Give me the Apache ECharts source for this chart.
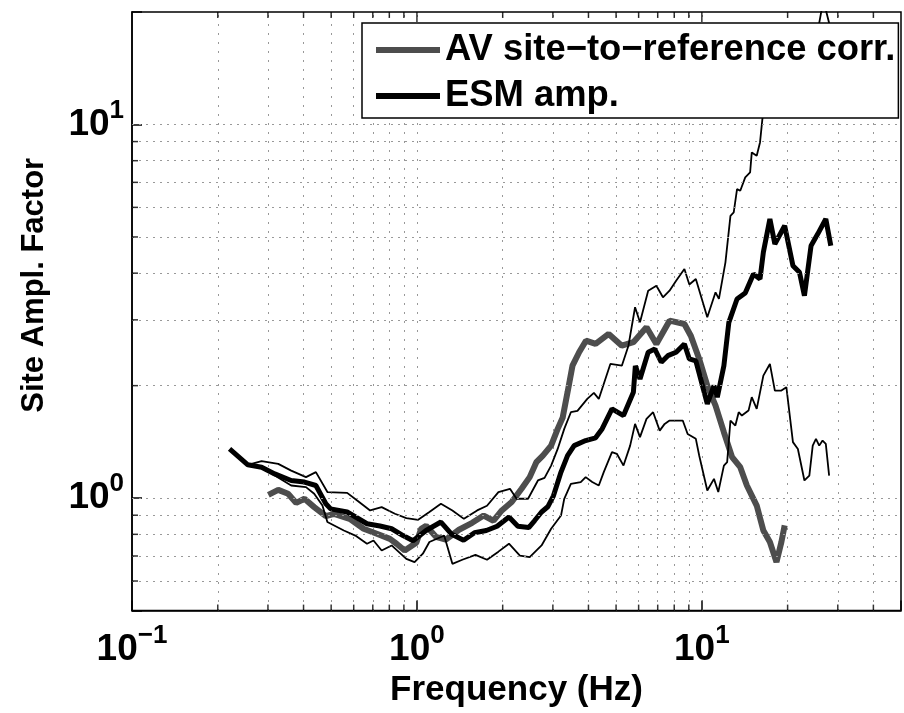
<!DOCTYPE html>
<html>
<head>
<meta charset="utf-8">
<script src="https://cdn.jsdelivr.net/npm/echarts@6/dist/echarts.min.js"></script>
<style>
html,body{margin:0;padding:0;background:#fff;}
#chart{width:904px;height:713px;}
</style>
</head>
<body>
<div id="chart"></div>
<script>
// ---------------- data (frequency Hz, amplification) ----------------
const avCurve = [[0.301,1.020],[0.326,1.052],[0.353,1.027],[0.377,0.971],[0.403,0.996],[0.436,0.946],[0.479,0.895],[0.512,0.908],[0.584,0.878],[0.650,0.828],[0.723,0.803],[0.804,0.778],[0.848,0.755],[0.906,0.724],[0.995,0.759],[1.035,0.828],[1.077,0.843],[1.166,0.788],[1.263,0.774],[1.405,0.823],[1.563,0.859],[1.715,0.898],[1.857,0.870],[1.986,0.927],[2.151,0.976],[2.329,1.059],[2.488,1.138],[2.625,1.248],[2.767,1.300],[2.958,1.382],[3.119,1.532],[3.246,1.640],[3.378,1.921],[3.516,2.262],[3.709,2.457],[3.920,2.639],[4.236,2.586],[4.710,2.750],[5.238,2.558],[5.751,2.614],[6.394,2.866],[6.925,2.586],[7.703,2.985],[8.685,2.925],[9.155,2.716],[9.788,2.358],[10.45,2.000],[11.17,1.768],[11.95,1.501],[12.77,1.287],[13.64,1.210],[14.39,1.081],[15.58,0.955],[16.44,0.819],[17.33,0.763],[18.28,0.674],[19.02,0.763],[19.53,0.845]];

const esmCurve = [[0.220,1.354],[0.255,1.228],[0.285,1.210],[0.317,1.161],[0.362,1.115],[0.403,1.104],[0.442,1.081],[0.479,0.966],[0.498,0.936],[0.569,0.918],[0.668,0.854],[0.742,0.842],[0.815,0.828],[0.894,0.794],[0.969,0.769],[1.077,0.819],[1.214,0.863],[1.325,0.800],[1.458,0.771],[1.592,0.808],[1.752,0.819],[1.912,0.841],[2.104,0.890],[2.261,0.841],[2.469,0.834],[2.590,0.871],[2.738,0.918],[2.879,0.948],[3.014,1.014],[3.204,1.174],[3.378,1.300],[3.563,1.382],[3.911,1.426],[4.236,1.450],[4.466,1.532],[4.837,1.733],[5.309,1.663],[5.751,1.921],[5.843,2.258],[6.066,2.084],[6.481,2.457],[6.837,2.507],[7.205,2.310],[7.599,2.406],[8.123,2.457],[8.685,2.586],[9.038,2.358],[9.526,2.329],[10.45,1.787],[11.03,2.000],[11.33,1.863],[11.95,2.262],[12.44,2.955],[13.29,3.412],[14.20,3.540],[15.18,3.980],[16.00,3.858],[16.44,4.549],[17.33,5.583],[18.04,4.786],[19.53,5.357],[20.88,4.188],[22.01,4.021],[22.91,3.480],[24.17,4.737],[25.50,5.089],[27.23,5.583],[28.35,4.737]];

const esmUpper = [[0.255,1.228],[0.285,1.256],[0.326,1.235],[0.362,1.185],[0.408,1.138],[0.442,1.174],[0.485,1.038],[0.569,1.033],[0.617,0.985],[0.685,0.927],[0.752,0.946],[0.837,0.908],[0.918,0.884],[1.010,0.875],[1.106,0.918],[1.214,0.966],[1.332,0.927],[1.462,0.880],[1.627,0.927],[1.762,0.954],[1.932,1.038],[2.121,1.059],[2.238,0.996],[2.455,0.996],[2.659,1.115],[2.805,1.133],[2.958,1.222],[3.119,1.354],[3.289,1.532],[3.470,1.698],[3.659,1.712],[3.962,1.843],[4.179,1.912],[4.348,1.843],[4.774,2.286],[5.238,2.262],[5.526,2.558],[5.829,3.242],[6.066,2.955],[6.481,3.591],[6.925,3.703],[7.303,3.448],[7.703,3.591],[8.123,3.818],[8.685,4.104],[9.038,3.730],[9.526,3.858],[10.45,3.048],[11.17,3.555],[11.48,3.412],[12.10,4.276],[12.60,5.697],[12.94,5.817],[13.29,6.714],[13.64,6.645],[14.20,7.217],[14.77,7.440],[14.97,8.418],[15.58,8.245],[16.00,8.953],[16.31,10.33],[17.3,13.5],[18.3,15.5],[19.5,14.5],[21.0,16.5],[22.5,15.0],[24.0,16.0],[25.0,15.5],[25.82,18.7],[26.70,21.5],[27.97,18.7],[28.3,17.0]];

const esmLower = [[0.255,1.228],[0.285,1.210],[0.317,1.149],[0.362,1.081],[0.408,1.070],[0.436,1.027],[0.466,0.955],[0.485,0.863],[0.554,0.819],[0.608,0.794],[0.668,0.755],[0.704,0.770],[0.752,0.724],[0.815,0.747],[0.918,0.688],[0.981,0.674],[1.049,0.710],[1.106,0.763],[1.214,0.787],[1.246,0.794],[1.332,0.667],[1.443,0.684],[1.605,0.705],[1.762,0.684],[1.932,0.719],[2.104,0.755],[2.298,0.702],[2.488,0.695],[2.738,0.747],[2.958,0.828],[3.204,0.898],[3.289,0.996],[3.470,1.092],[3.758,1.104],[3.911,1.138],[4.123,1.104],[4.348,1.081],[4.526,1.174],[4.837,1.327],[5.031,1.314],[5.309,1.222],[5.602,1.382],[5.829,1.580],[6.066,1.456],[6.394,1.630],[6.745,1.698],[7.114,1.516],[7.404,1.580],[7.703,1.613],[8.569,1.613],[8.916,1.485],[9.526,1.441],[9.788,1.300],[10.45,1.048],[11.03,1.126],[11.42,1.038],[11.95,1.222],[12.27,1.248],[12.60,1.613],[13.11,1.564],[13.47,1.698],[13.82,1.663],[14.58,1.715],[14.97,1.863],[15.58,1.733],[16.44,2.127],[17.33,2.286],[18.04,1.940],[19.02,1.940],[19.80,1.981],[20.88,1.412],[21.73,1.354],[22.91,1.115],[23.84,1.149],[24.50,1.382],[25.15,1.441],[25.82,1.382],[26.53,1.426],[27.23,1.397],[27.97,1.149]];

// axis ranges and ticks
const xRange = [0.1, 50];
const yRange = [0.5, 20];
const xMajor = [0.1, 1, 10];
const yMajor = [1, 10];
const xMinor = [0.2,0.3,0.4,0.5,0.6,0.7,0.8,0.9,2,3,4,5,6,7,8,9,20,30,40];
const yMinor = [0.6,0.7,0.8,0.9,2,3,4,5,6,7,8,9];

const seriesNames = ['AV site\u2212to\u2212reference corr.', 'ESM amp.'];
const seriesColors = ['#4d4d4d', '#000000'];
const xTitle = 'Frequency (Hz)';
const yTitle = 'Site Ampl. Factor';

// ---------------- chart ----------------
const FONT = '"Liberation Sans", Arial, Helvetica, sans-serif';
const chart = echarts.init(document.getElementById('chart'), null, {renderer: 'canvas'});

function powLabel(v) {
  const l = Math.log10(v);
  const e = Math.round(l);
  if (Math.abs(l - e) > 1e-6) return '';
  const ex = e < 0 ? '\u2212' + (-e) : String(e);
  return '{b|10}{s|' + ex + '}';
}
const richLab = {
  b: {fontSize: 37, fontWeight: 'bold', fontFamily: FONT, color: '#000', lineHeight: 54},
  s: {fontSize: 26, fontWeight: 'bold', fontFamily: FONT, color: '#000', lineHeight: 26, verticalAlign: 'top'}
};

const vGrid = xMinor.concat(xMajor.slice(1)).map(v => ({xAxis: v, lineStyle: {color: '#555', width: 1, type: [1.2, 7.8]}}));
const hGrid = yMinor.concat(yMajor).map(v => ({yAxis: v, lineStyle: {color: '#999', width: 1, type: [2, 5]}}));

const tickSeries = (data, size, offset) => ({
  type: 'scatter', data: data, symbol: 'rect', symbolSize: size, symbolOffset: offset,
  itemStyle: {color: '#000'}, silent: true, clip: false, z: 5, animation: false,
  emphasis: {disabled: true}, tooltip: {show: false}
});

chart.setOption({
  animation: false,
  backgroundColor: '#fff',
  grid: {left: 132, top: 12, right: -7, bottom: 100, show: true, borderColor: '#000', borderWidth: 1.5, backgroundColor: '#fff'},
  xAxis: {
    type: 'log', logBase: 10, min: xRange[0], max: xRange[1],
    name: xTitle, nameLocation: 'middle', nameGap: 62,
    nameTextStyle: {fontSize: 35, fontWeight: 'bold', fontFamily: FONT, color: '#000'},
    axisLine: {lineStyle: {color: '#000', width: 1.5}},
    axisTick: {inside: true, length: 10, lineStyle: {color: '#000', width: 1.5}},
    splitLine: {show: false},
    axisLabel: {formatter: powLabel, rich: richLab, margin: 12, hideOverlap: false}
  },
  yAxis: {
    type: 'log', logBase: 10, min: yRange[0], max: yRange[1],
    name: yTitle, nameLocation: 'middle', nameGap: 82,
    nameTextStyle: {fontSize: 31, fontWeight: 'bold', fontFamily: FONT, color: '#000', padding: [0, 0, 0, 52]},
    axisLine: {lineStyle: {color: '#000', width: 1.5}},
    axisTick: {inside: true, length: 10, lineStyle: {color: '#000', width: 1.5}},
    splitLine: {show: false},
    axisLabel: {formatter: powLabel, rich: richLab, margin: 8, hideOverlap: false}
  },
  legend: {
    data: seriesNames.map((n, i) => ({name: n, icon: 'rect', itemStyle: {color: seriesColors[i]}})),
    orient: 'vertical', left: 362, top: 23,
    backgroundColor: '#fff', borderColor: '#000', borderWidth: 1.5, borderRadius: 0,
    padding: [7, 3, 2, 14], itemGap: 6, itemWidth: 64, itemHeight: 6,
    selectedMode: false,
    textStyle: {fontSize: 36.4, fontWeight: 'bold', fontFamily: FONT, color: '#000', lineHeight: 40},
    z: 10
  },
  series: [
    {
      name: 'grid', type: 'line', data: [], silent: true, z: 1,
      markLine: {silent: true, symbol: ['none', 'none'], label: {show: false}, animation: false,
        emphasis: {disabled: true}, data: vGrid.concat(hGrid)}
    },
    {
      name: seriesNames[0], type: 'line', data: avCurve, symbol: 'none', showSymbol: false,
      lineStyle: {color: seriesColors[0], width: 6}, itemStyle: {color: seriesColors[0]}, z: 2, silent: true
    },
    {
      name: seriesNames[1], type: 'line', data: esmCurve, symbol: 'none', showSymbol: false,
      lineStyle: {color: seriesColors[1], width: 5}, itemStyle: {color: seriesColors[1]}, z: 3, silent: true
    },
    {
      name: 'upper', type: 'line', data: esmUpper, symbol: 'none', showSymbol: false,
      lineStyle: {color: '#000', width: 1.8}, z: 3, silent: true
    },
    {
      name: 'lower', type: 'line', data: esmLower, symbol: 'none', showSymbol: false,
      lineStyle: {color: '#000', width: 1.8}, z: 3, silent: true
    },
    tickSeries(yMinor.map(v => [xRange[0], v]), [6, 1.5], [3, 0]),
    tickSeries(xMinor.map(v => [v, yRange[0]]), [1.5, 6], [0, -3]),
    tickSeries(xMinor.map(v => [v, yRange[1]]), [1.5, 6], [0, 3]),
    tickSeries(xMajor.slice(1).map(v => [v, yRange[1]]), [1.5, 10], [0, 5])
  ]
});
</script>
</body>
</html>
